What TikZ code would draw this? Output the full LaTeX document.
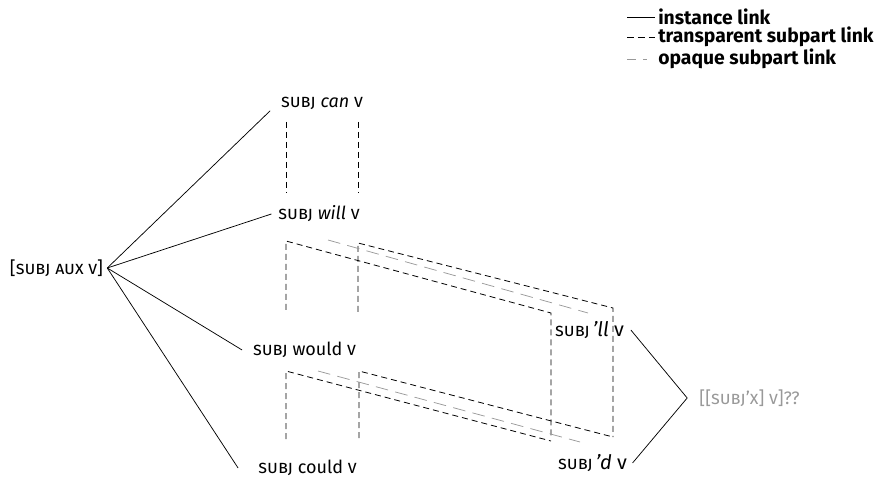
\documentclass[tikz,border=0pt]{standalone}
\usepackage{fontspec}
\setmainfont{Fira Sans}
\newcommand{\smc}[1]{\textsc{#1}}
\begin{document}
\begin{tikzpicture}[x=0.75pt,y=-0.75pt,
  lbl/.style={inner xsep=6pt,inner ysep=1pt,font=\fontsize{13.5}{16}\selectfont},
  legtext/.style={anchor=west,inner sep=0pt,font=\fontsize{14.5}{17}\selectfont\bfseries},
  inst/.style={draw=black,line width=0.55pt},
  tlink/.style={draw=black,line width=0.6pt,dash pattern=on 4.5pt off 3pt},
  olink/.style={draw=black!40,line width=0.55pt,dash pattern=on 9.5pt off 5.5pt}]
\useasboundingbox (0,0) rectangle (889,477);

% legend
\coordinate (l1a) at (627,17);  \coordinate (l1b) at (655,17);
\coordinate (l2a) at (627,37);  \coordinate (l2b) at (655,37);
\coordinate (l3a) at (627,59);  \coordinate (l3b) at (648,59);
\draw[inst] (l1a) -- (l1b);
\draw[tlink,dash pattern=on 5pt off 3.2pt] (l2a) -- (l2b);
\draw[draw=black!40,line width=0.55pt,dash pattern=on 6.75pt off 5.25pt on 3pt off 6pt] (l3a) -- (l3b);
\node[legtext] (leg1) at (658,17) {instance link};
\node[legtext] (leg2) at (658,37) {transparent subpart link};
\node[legtext] (leg3) at (658,59) {opaque subpart link};

% constructions
\node[lbl,inner xsep=3pt] (aux) at (56.5,268) {[\smc{subj aux v}]};
\node[lbl,inner xsep=8pt] (can) at (322,103) {\smc{subj} \textit{can} \smc{v}};
\node[lbl,inner xsep=5pt] (will) at (319,214) {\smc{subj} \textit{will} \smc{v}};
\node[lbl,inner xsep=8pt] (would) at (304.5,350) {\smc{subj} would \smc{v}};
\node[lbl,inner xsep=15pt] (could) at (307.5,468) {\smc{subj} could \smc{v}};
\node[lbl,inner xsep=5pt] (ll) at (589.5,330) {\smc{subj}\,{\fontsize{15}{17}\selectfont\textit{’ll} v}};
\node[lbl,inner xsep=4pt] (dd) at (592.5,463) {\smc{subj}\,{\fontsize{15}{17}\selectfont\textit{’d} v}};
\node[lbl,inner xsep=9pt,text=black!40] (gen) at (749.5,398)
  {[[\smc{subj}’\smc{x}] \smc{v}]??};

% instance links
\draw[inst] (aux.east) -- (can.south west);
\draw[inst] (aux.east) -- (will.west);
\draw[inst] (aux.east) -- (would.west);
\draw[inst] (aux.east) -- (could.west);
\draw[inst] (ll.east) -- (gen.west);
\draw[inst] (dd.east) -- (gen.west);

% transparent subpart links between can and will
\coordinate (c1) at (286,122); \coordinate (c2) at (286,193);
\coordinate (c3) at (358,122); \coordinate (c4) at (358,193);
\draw[tlink] (c1) -- (c2);
\draw[tlink] (c3) -- (c4);

% will and 'll
\coordinate (w1) at (286,310); \coordinate (w2) at (286,241);
\coordinate (w3) at (551,313); \coordinate (w4) at (551,438);
\coordinate (w5) at (358,312); \coordinate (w6) at (358,243);
\coordinate (w7) at (613,308); \coordinate (w8) at (613,437);
\draw[tlink] (w1) -- (w2) -- (w3) -- (w4);
\draw[tlink] (w5) -- (w6) -- (w7) -- (w8);

% would and 'd
\coordinate (u1) at (286,439); \coordinate (u2) at (286,371);
\coordinate (u3) at (551,441);
\coordinate (u4) at (359,438); \coordinate (u5) at (359,371);
\coordinate (u6) at (613,437);
\draw[tlink] (u1) -- (u2) -- (u3);
\draw[tlink] (u4) -- (u5) -- (u6);

% opaque subpart links
\coordinate (g1) at (328,240); \coordinate (g2) at (588,313);
\coordinate (g3) at (318,371); \coordinate (g4) at (580,442);
\draw[olink] (g1) -- (g2);
\draw[olink] (g3) -- (g4);
\end{tikzpicture}
\end{document}
